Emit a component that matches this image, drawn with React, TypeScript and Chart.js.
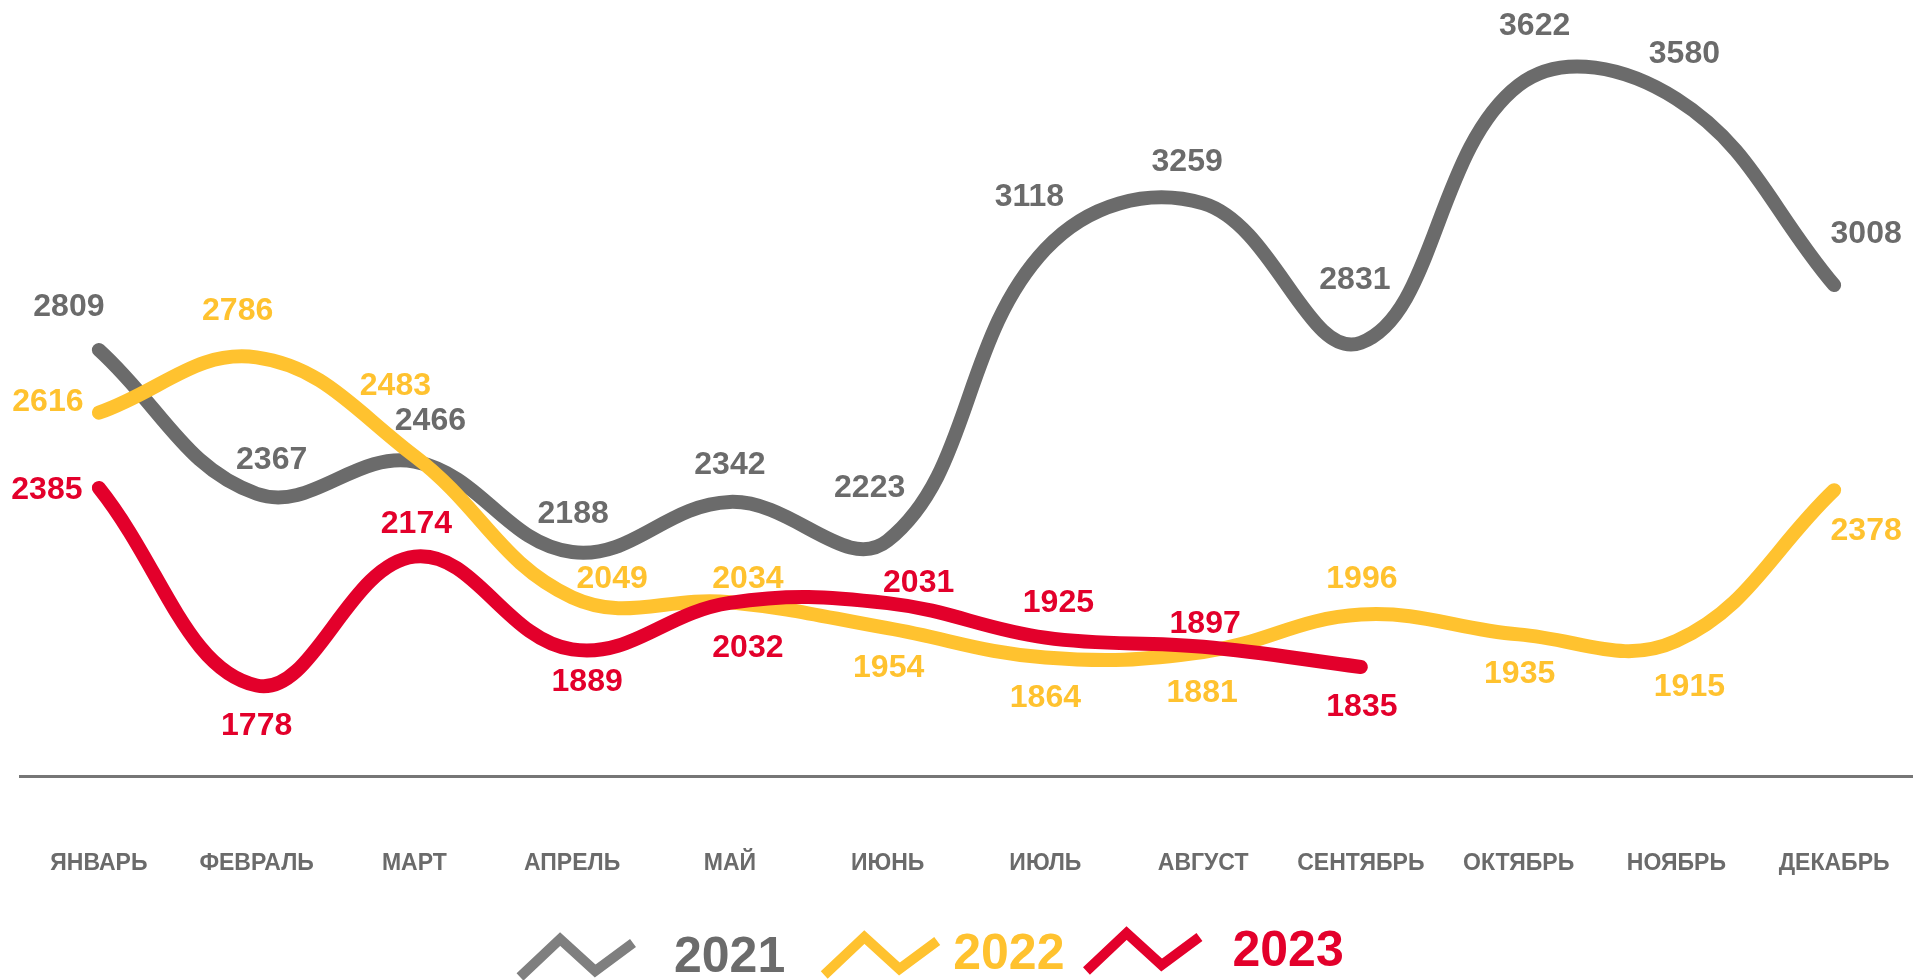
import React, { useEffect, useRef } from "react";
import { Chart, registerables } from "chart.js";

Chart.register(...registerables);

// ---- data ----
const months = ["ЯНВАРЬ", "ФЕВРАЛЬ", "МАРТ", "АПРЕЛЬ", "МАЙ", "ИЮНЬ", "ИЮЛЬ", "АВГУСТ", "СЕНТЯБРЬ", "ОКТЯБРЬ", "НОЯБРЬ", "ДЕКАБРЬ"];
const seriesNames = ["2021", "2022", "2023"];
const values2021 = [2809, 2367, 2466, 2188, 2342, 2223, 3118, 3259, 2831, 3622, 3580, 3008];
const values2022 = [2616, 2786, 2483, 2049, 2034, 1954, 1864, 1881, 1996, 1935, 1915, 2378];
const values2023 = [2385, 1778, 2174, 1889, 2032, 2031, 1925, 1897, 1835];

// ---- style ----
const FONT = "'Liberation Sans', Arial, Helvetica, sans-serif";
const colors = ["#6b6b6b", "#ffc22f", "#e3002b"];
const legendIconColors = ["#7f7f7f", "#ffc22f", "#e3002b"];
const legendTextY = [958, 955, 952];
const legendIconY = [957, 955, 951];
const legendGapIconText = [41, 16, 33];
const legendGapAfter = [39, 22, 0];
const legendStartX = 520;

// label offsets (px) relative to each point, per series
const labelOffsets2021 = [[-30, -43], [15, -34], [16, -40], [1, -38], [0, -37], [-18, -52], [-16, -52], [-16, -41], [-6, -63], [16, -59], [8, -45], [32, -51]];
const labelOffsets2022 = [[-51, -11], [-19, -46], [-19, -70], [40, -18], [18, -23], [1, 40], [0, 41], [-1, 41], [1, -35], [1, 40], [13, 46], [32, 41]];
const labelOffsets2023 = [[-52, 2], [0, 41], [2, -32], [15, 33], [18, 45], [31, -20], [13, -34], [2, -23], [1, 40]];
const labelOffsets = [labelOffsets2021, labelOffsets2022, labelOffsets2023];

const dataLabelPlugin = {
  id: "dataLabels",
  afterDatasetsDraw(chart: any) {
    const ctx = chart.ctx;
    ctx.save();
    ctx.font = `bold 32px ${FONT}`;
    ctx.textAlign = "center";
    ctx.textBaseline = "middle";
    chart.data.datasets.forEach((ds: any, i: number) => {
      const meta = chart.getDatasetMeta(i);
      ctx.fillStyle = colors[i];
      meta.data.forEach((el: any, j: number) => {
        const off = labelOffsets[i][j] || [0, -35];
        ctx.fillText(String(ds.data[j]), el.x + off[0], el.y + off[1]);
      });
    });
    ctx.restore();
  },
};

const legendPlugin = {
  id: "zigLegend",
  afterDraw(chart: any) {
    const ctx = chart.ctx;
    const iconW = 113;
    const iconH = 40;
    ctx.save();
    ctx.font = `bold 50px ${FONT}`;
    let x = legendStartX;
    chart.data.datasets.forEach((ds: any, i: number) => {
      const w = ctx.measureText(ds.label).width;
      const top = legendIconY[i] - iconH / 2;
      ctx.strokeStyle = legendIconColors[i];
      ctx.lineWidth = 10;
      ctx.lineJoin = "miter";
      ctx.lineCap = "butt";
      ctx.beginPath();
      ctx.moveTo(x, top + iconH);
      ctx.lineTo(x + iconW * 0.355, top + 2);
      ctx.lineTo(x + iconW * 0.665, top + iconH * 0.85);
      ctx.lineTo(x + iconW, top + iconH * 0.15);
      ctx.stroke();
      x += iconW + legendGapIconText[i];
      ctx.fillStyle = colors[i];
      ctx.textAlign = "left";
      ctx.textBaseline = "middle";
      ctx.fillText(ds.label, x, legendTextY[i]);
      x += w + legendGapAfter[i];
    });
    ctx.restore();
  },
};

export default function App() {
  const ref = useRef<HTMLCanvasElement | null>(null);
  useEffect(() => {
    if (!ref.current) return;
    const seriesValues = [values2021, values2022, values2023];
    const chart = new Chart(ref.current, {
      type: "line",
      data: {
        labels: months,
        datasets: seriesNames.map((name, i) => ({
          label: name,
          data: seriesValues[i],
          borderColor: colors[i],
          backgroundColor: colors[i],
          borderWidth: 14,
          tension: 0.4,
          pointRadius: 0,
          pointHoverRadius: 0,
          borderCapStyle: "round",
          borderJoinStyle: "round",
          fill: false,
          order: 3 - i,
        })),
      },
      options: {
        responsive: false,
        animation: false,
        devicePixelRatio: 1,
        layout: { padding: { left: 20, right: -4, top: 11, bottom: 94 } },
        plugins: { legend: { display: false }, tooltip: { enabled: false } },
        events: [],
        scales: {
          y: { display: false, min: 1500, max: 3850 },
          x: {
            offset: true,
            grid: { display: false, drawTicks: false },
            border: { display: true, color: "#767676", width: 3 },
            afterFit(scale: any) {
              scale.paddingLeft = 0;
              scale.paddingRight = 0;
              scale.height = 110;
            },
            ticks: {
              autoSkip: false,
              maxRotation: 0,
              padding: 74,
              color: "#6b6b6b",
              font: { family: FONT, size: 23, weight: "bold" },
            },
          },
        },
      } as any,
      plugins: [dataLabelPlugin, legendPlugin],
    });
    return () => chart.destroy();
  }, []);
  return (
    <canvas
      ref={ref}
      width={1913}
      height={980}
      style={{ position: "fixed", left: 0, top: 0, width: 1913, height: 980, display: "block", background: "#fff" }}
    />
  );
}
